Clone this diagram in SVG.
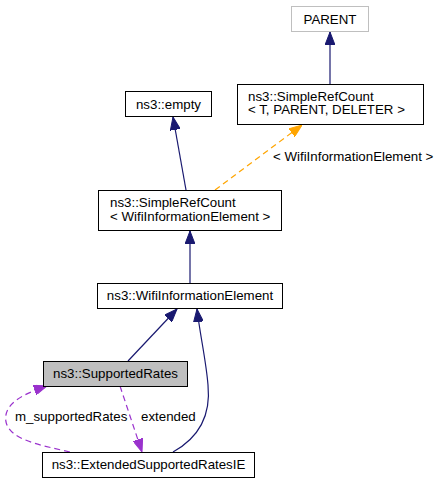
<svg xmlns="http://www.w3.org/2000/svg" width="440" height="483" viewBox="0 0 440 483">
<style>
text{font-family:"Liberation Sans",Arial,sans-serif;font-size:13.3px;fill:#000}
.c{text-anchor:middle}
.box{fill:#fff;stroke:#000;stroke-width:1}
.gray{fill:#fff;stroke:#bfbfbf}
.cur{fill:#bfbfbf;stroke:#000}
.blue{fill:none;stroke:#191970;stroke-width:1.2;marker-end:url(#ab)}
.orange{fill:none;stroke:#ffa500;stroke-width:1.2;stroke-dasharray:6,4;marker-end:url(#ao)}
.purple{fill:none;stroke:#9a32cd;stroke-width:1.2;stroke-dasharray:6,4;marker-end:url(#ap)}
</style>
<defs>
<marker id="ab" markerUnits="userSpaceOnUse" viewBox="0 0 13 10" refX="13" refY="5" markerWidth="13" markerHeight="10" orient="auto"><path d="M0,0 L13,5 L0,10 z" fill="#191970" stroke="#191970"/></marker>
<marker id="ao" markerUnits="userSpaceOnUse" viewBox="0 0 13 10" refX="13" refY="5" markerWidth="13" markerHeight="10" orient="auto"><path d="M0,0 L13,5 L0,10 z" fill="#ffa500" stroke="#ffa500"/></marker>
<marker id="ap" markerUnits="userSpaceOnUse" viewBox="0 0 13 10" refX="13" refY="5" markerWidth="13" markerHeight="10" orient="auto"><path d="M0,0 L13,5 L0,10 z" fill="#9a32cd" stroke="#9a32cd"/></marker>
</defs>
<rect width="440" height="483" fill="#fff"/>
<g id="connectors">
<path class="blue" d="M330,84 L330,32"/>
<path class="blue" d="M186,190 L173,117"/>
<path class="orange" d="M215,190 L302,125"/>
<text x="273" y="161">&lt; WifiInformationElement &gt;</text>
<path class="blue" d="M190,283 L190,231"/>
<path class="blue" d="M128,361 L177,309"/>
<path class="blue" d="M173,452 C200,437 211,415 208,385 C206,360 200,335 197,309"/>
<path class="purple" d="M70,452 C40,445 10,440 6,422 C3,405 20,395 47,386"/>
<text x="15" y="421">m_supportedRates</text>
<path class="purple" d="M120,386 L142,452"/>
<text x="141" y="421">extended</text>
</g>
<g id="PARENT">
<rect class="gray" x="291.5" y="6.5" width="77" height="25"/>
<text class="c" x="330" y="23.5">PARENT</text>
</g>
<g id="SimpleRefCount_T">
<rect class="box" x="237.5" y="84.5" width="186" height="40"/>
<text x="248" y="100.5">ns3::SimpleRefCount</text>
<text x="248" y="114">&lt; T, PARENT, DELETER &gt;</text>
</g>
<g id="empty">
<rect class="box" x="125.5" y="91.5" width="86" height="25"/>
<text class="c" x="168.5" y="108.5">ns3::empty</text>
</g>
<g id="SimpleRefCount_Wifi">
<rect class="box" x="98.5" y="190.5" width="183" height="40"/>
<text x="110" y="207">ns3::SimpleRefCount</text>
<text x="110" y="220.5">&lt; WifiInformationElement &gt;</text>
</g>
<g id="WifiInformationElement">
<rect class="box" x="97.5" y="283.5" width="185" height="25"/>
<text class="c" x="190" y="300">ns3::WifiInformationElement</text>
</g>
<g id="SupportedRates">
<rect class="cur" x="43.5" y="361.5" width="144" height="25"/>
<text class="c" x="115.5" y="378">ns3::SupportedRates</text>
</g>
<g id="ExtendedSupportedRatesIE">
<rect class="box" x="42.5" y="452.5" width="212" height="25"/>
<text class="c" x="148.5" y="469">ns3::ExtendedSupportedRatesIE</text>
</g>
</svg>
